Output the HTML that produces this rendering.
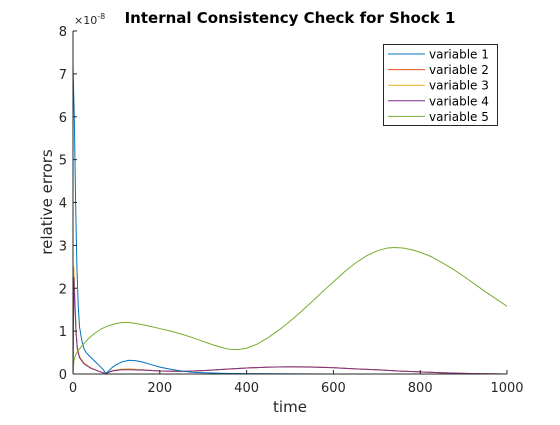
<!DOCTYPE html>
<html><head><meta charset="utf-8"><style>
body{margin:0;background:#fff;}
svg{font-family:"DejaVu Sans","Liberation Sans",sans-serif;}
</style></head><body>
<svg id="chart" width="560" height="420" viewBox="0 0 560 420" xmlns="http://www.w3.org/2000/svg">
<rect width="560" height="420" fill="#fff"/>
<g id="series"></g>
<g id="axes"></g>
<text x="290" y="23" text-anchor="middle" font-size="15" font-weight="bold" fill="#000">Internal Consistency Check for Shock 1</text>
<text x="290" y="412" text-anchor="middle" font-size="15" fill="#262626">time</text>
<text transform="translate(52,202) rotate(-90)" text-anchor="middle" font-size="15" fill="#262626">relative errors</text>
<text x="74" y="24" font-size="11" fill="#262626">×10<tspan dy="-5" font-size="8">-8</tspan></text>
<g id="legend"></g>
</svg>
<script>
const xTicks=[0,200,400,600,800,1000];
const yTicks=[0,1,2,3,4,5,6,7,8];
const seriesNames=["variable 1","variable 2","variable 3","variable 4","variable 5"];
const colors=["#0072BD","#D95319","#EDB120","#7E2F8E","#77AC30"];
const t1=[0,3,6,9,12,15,20,25,30,40,50,60,70,75,80,90,100,115,130,145,160,180,200,225,250,275,300,350,400,600,1000];
const v1=[7.2,6,4,2.5,1.6,1.1,0.8,0.6,0.5,0.4,0.3,0.2,0.1,0.02,0.05,0.15,0.22,0.29,0.32,0.31,0.28,0.22,0.16,0.11,0.07,0.04,0.03,0.015,0.01,0,0];
const tS=[0,2,4,7,10,15,25,40,55,75,90,110,130,160,200,250,300,350,400,450,500,550,600,650,700,750,800,850,900,950,1000];
const v2=[0,2.4,1.8,1.0,0.6,0.4,0.25,0.15,0.08,0.01,0.07,0.1,0.11,0.1,0.07,0.06,0.08,0.11,0.14,0.16,0.17,0.165,0.15,0.12,0.1,0.07,0.05,0.03,0.015,0.005,0];
const v3=[0,2.5,1.9,1.05,0.62,0.41,0.26,0.15,0.08,0.01,0.08,0.11,0.12,0.1,0.07,0.06,0.08,0.11,0.14,0.16,0.17,0.165,0.15,0.12,0.1,0.07,0.05,0.03,0.015,0.005,0];
const v4=[0,2.25,1.7,0.95,0.58,0.38,0.24,0.14,0.08,0.01,0.07,0.1,0.1,0.09,0.07,0.06,0.08,0.11,0.14,0.16,0.165,0.16,0.145,0.12,0.1,0.07,0.05,0.03,0.015,0.005,0];
const t5=[0,2,5,10,20,35,50,65,80,100,115,130,150,175,200,225,250,275,300,325,350,365,380,400,425,450,475,500,525,550,575,600,625,650,675,700,725,740,760,780,800,825,850,875,900,925,950,975,1000];
const v5=[0,0.3,0.42,0.52,0.65,0.82,0.95,1.05,1.12,1.18,1.2,1.2,1.17,1.12,1.06,1.0,0.93,0.85,0.76,0.67,0.6,0.57,0.57,0.6,0.7,0.85,1.03,1.23,1.45,1.68,1.92,2.15,2.38,2.58,2.75,2.87,2.94,2.95,2.94,2.9,2.84,2.74,2.6,2.45,2.28,2.1,1.92,1.75,1.58];
const ts=[t1,tS,tS,tS,t5], vs=[v1,v2,v3,v4,v5];

const X0=73,X1=507,Y0=374,Y1=31;
const xs=v=>X0+(v/1000)*(X1-X0);
const ys=v=>Y0-(v/8)*(Y0-Y1);
const NS="http://www.w3.org/2000/svg";
function mk(tag,attrs,parent){const e=document.createElementNS(NS,tag);for(const k in attrs)e.setAttribute(k,attrs[k]);parent.appendChild(e);return e;}

const sg=document.getElementById('series');
const order=[1,2,3,0,4];
order.forEach(i=>{
  const p=mk('polyline',{points:ts[i].map((t,j)=>xs(t)+','+ys(vs[i][j])).join(' '),fill:'none',stroke:colors[i],'stroke-width':1,'stroke-linejoin':'round'},sg);
  
  
});

const ag=document.getElementById('axes');
const xl=mk('line',{x1:X0,y1:Y0,x2:X1,y2:Y0,stroke:'#262626','stroke-width':1},ag);


const yl=mk('line',{x1:X0,y1:Y0,x2:X0,y2:Y1,stroke:'#262626','stroke-width':1},ag);


xTicks.forEach(v=>{
  const tk=mk('line',{x1:xs(v),y1:Y0,x2:xs(v),y2:Y0-4,stroke:'#262626'},ag);
  
  
  const tx=mk('text',{x:xs(v),y:Y0+18,'text-anchor':'middle','font-size':13,fill:'#262626'},ag);
  tx.textContent=v;
  
  
});
yTicks.forEach(v=>{
  const tk=mk('line',{x1:X0,y1:ys(v),x2:X0+4,y2:ys(v),stroke:'#262626'},ag);
  
  
  const tx=mk('text',{x:X0-6,y:ys(v)+5,'text-anchor':'end','font-size':13,fill:'#262626'},ag);
  tx.textContent=v;
  
  
});

const lg=document.getElementById('legend');
const lb=mk('rect',{x:383.5,y:44.5,width:114,height:81,fill:'#fff',stroke:'#262626','stroke-width':1},lg);


seriesNames.forEach((n,i)=>{
  const y=54+i*15.6;
  const l=mk('line',{x1:388,y1:y,x2:425,y2:y,stroke:colors[i],'stroke-width':1},lg);
  
  
  const t=mk('text',{x:429,y:y+4.5,'font-size':12,fill:'#000'},lg);
  t.textContent=n;
  
  
});
</script>
</body></html>
